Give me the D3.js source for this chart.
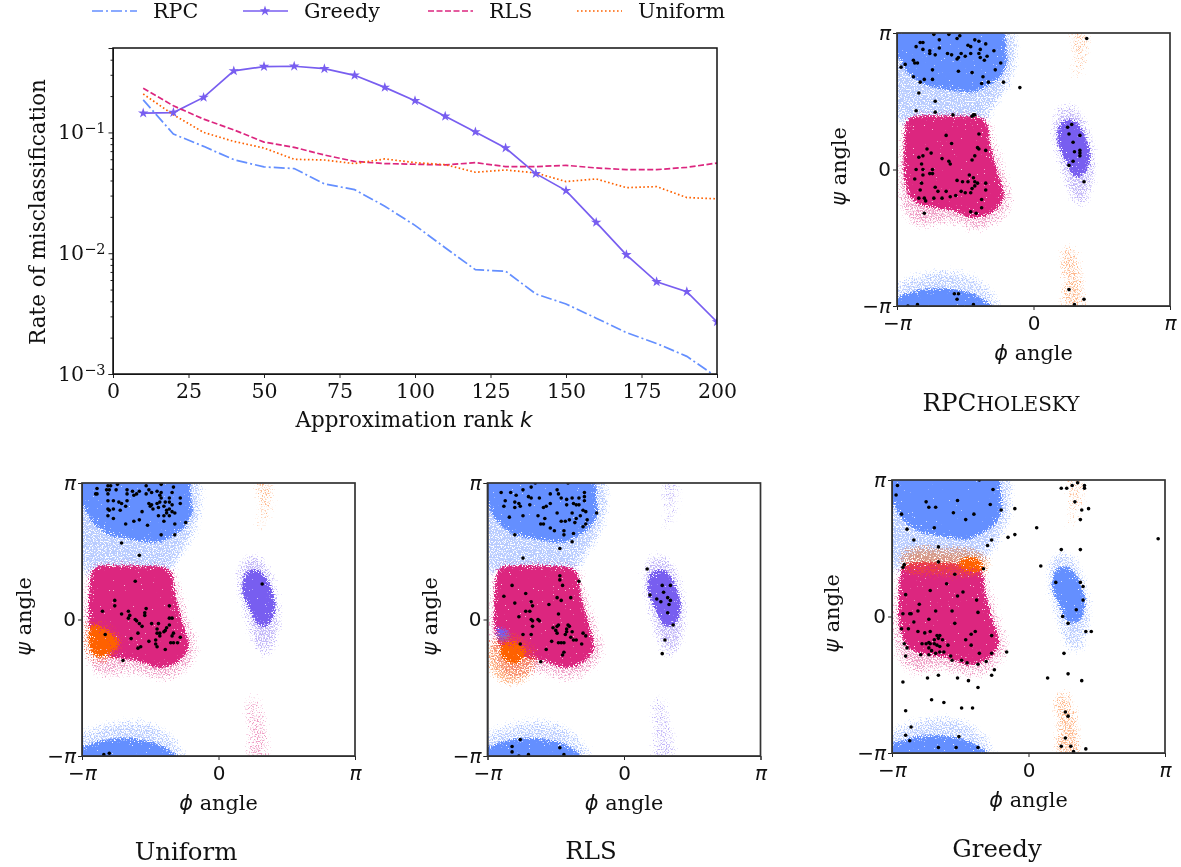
<!DOCTYPE html>
<html>
<head>
<meta charset="utf-8">
<script src="https://cdn.jsdelivr.net/npm/d3@7"></script>
<style>
  html, body { margin: 0; padding: 0; background: #fff; }
  svg { display: block; filter: blur(0.35px); }
  text { fill: #111; font-family: "DejaVu Serif", serif; }
  .axis path, .axis line { stroke: #222; }
</style>
</head>
<body>
<div id="chart"></div>
<script>

// ---- top chart values
var ranks = [10, 20, 30, 40, 50, 60, 70, 80, 90, 100, 110, 120, 130, 140, 150, 160, 170, 180, 190, 200];
var rpcRate = [0.186, 0.097, 0.0767, 0.0595, 0.0518, 0.0502, 0.0375, 0.0336, 0.0245, 0.017, 0.0111, 0.0073, 0.0071, 0.0046, 0.0038, 0.0029, 0.0022, 0.00179, 0.0014, 0.00094];
var greedyRate = [0.1445, 0.146, 0.195, 0.323, 0.351, 0.353, 0.337, 0.297, 0.236, 0.183, 0.136, 0.101, 0.0743, 0.0456, 0.033, 0.018, 0.0097, 0.0058, 0.0048, 0.0027];
var rlsRate = [0.232, 0.166, 0.129, 0.105, 0.0832, 0.0752, 0.065, 0.0576, 0.0552, 0.0545, 0.0538, 0.0562, 0.0521, 0.0521, 0.0534, 0.0508, 0.0492, 0.0492, 0.0514, 0.0558];
var uniformRate = [0.208, 0.14, 0.1, 0.0843, 0.0743, 0.0599, 0.0591, 0.0552, 0.0603, 0.0562, 0.0541, 0.0468, 0.0489, 0.0462, 0.0392, 0.0412, 0.0349, 0.0356, 0.0289, 0.0282];

var xTicks = [0, 25, 50, 75, 100, 125, 150, 175, 200];
var yTicks = [0.1, 0.01, 0.001];
var yTickLabels = ["\u22121", "\u22122", "\u22123"];
var yMinorTicks = [0.4, 0.3, 0.2, 0.09, 0.08, 0.07, 0.06, 0.05, 0.04, 0.03, 0.02, 0.009, 0.008, 0.007, 0.006, 0.005, 0.004, 0.003, 0.002];

var blue = "#648fff", purple = "#785ef0", magenta = "#dc267f", orange = "#fe6100";

// ---- sampled landmarks, [phi, psi] in units of pi
var rpcPoints = [[-.73,.99],[-.62,.99],[-.54,.98],[-.56,.96],[-.69,.95],[-.83,.93],[-.81,.93],[-.86,.90],[-.69,.89],[-.48,.91],[-.46,.90],[-.43,.95],[-.40,.94],[-.35,.92],[-.29,.87],[-.39,.88],[-.81,.88],[-.76,.87],[-.76,.85],[-.72,.84],[-.63,.85],[-.60,.84],[-.53,.85],[-.55,.82],[-.56,.81],[-.50,.83],[-.46,.85],[-.40,.85],[-.39,.82],[-.36,.80],[-.34,.83],[-.88,.80],[-.87,.78],[-.85,.78],[-.97,.75],[-.94,.77],[-.74,.73],[-.55,.72],[-.45,.71],[-.28,.73],[-.24,.78],[-.88,.68],[-.83,.64],[-.80,.66],[-.74,.66],[-.37,.68],[-.33,.64],[-.38,.63],[-.22,.64],[-.10,.60],[-.84,.56],[-.72,.50],[-.86,.43],[-.72,.42],[-.59,.40],[-.44,.40],[-.43,.40],[-.45,.39],
  [-.64,.25],[-.40,.26],[-.60,.19],[-.78,.15],[-.75,.12],[-.41,.16],[-.40,.15],[-.35,.14],[-.43,.10],[-.45,.07],[-.67,.08],[-.62,.06],[-.61,.04],[-.81,.10],[-.84,.09],[-.82,.04],[-.86,0],[-.81,0],[-.74,0],[-.76,-.03],[-.74,-.03],[-.87,-.07],[-.81,-.04],[-.82,-.10],[-.72,-.13],[-.70,-.16],[-.83,-.15],[-.84,-.21],[-.80,-.21],[-.79,-.23],[-.73,-.21],[-.67,-.21],[-.64,-.16],[-.61,-.20],[-.57,-.19],[-.53,-.16],[-.50,-.17],[-.56,-.08],[-.52,-.09],[-.48,-.09],[-.47,-.04],[-.44,-.06],[-.43,-.09],[-.41,-.10],[-.43,-.12],[-.45,-.14],[-.46,-.17],[-.35,-.10],[-.35,-.15],[-.38,-.22],[-.38,-.28],[-.46,-.31],[-.42,-.32],[-.80,-.32],
  [.25,.31],[.28,.33],[.26,.26],[.34,.25],[.29,.20],[.34,.14],[.30,.13],[.34,.12],[.34,.10],[.29,.06],[.26,.03],[.37,-.09],[.39,.96],[.26,-.88],[.37,-.95],[.30,-.99],
  [-.58,-.91],[-.55,-.91],[-.56,-.95],[-.44,-.99],[-.85,-.99],[-.92,-1]];

var uniformPoints = [[-.89,.96],[-.90,.92],[-.89,.92],[-.81,.98],[-.79,.98],[-.74,.99],[-.82,.95],[-.80,.95],[-.75,.95],[-.81,.92],[-.53,.98],[-.42,.99],[-.33,.97],[-.67,.95],[-.63,.94],[-.58,.94],[-.51,.95],[-.45,.94],[-.42,.93],[-.34,.93],[-.67,.92],[-.62,.91],[-.60,.92],[-.53,.92],[-.49,.93],[-.43,.91],[-.42,.89],[-.36,.89],[-.28,.89],[-.81,.87],[-.77,.87],[-.73,.86],[-.71,.85],[-.67,.87],[-.51,.85],[-.49,.84],[-.45,.85],[-.43,.86],[-.39,.86],[-.36,.86],[-.34,.84],[-.28,.85],[-.81,.81],[-.77,.81],[-.80,.80],[-.72,.80],[-.68,.83],[-.56,.79],[-.50,.83],[-.48,.81],[-.44,.82],[-.40,.83],[-.38,.80],[-.36,.81],[-.34,.79],[-.32,.78],[-.81,.76],[-.77,.74],[-.62,.72],[-.58,.73],[-.44,.76],[-.40,.76],[-.38,.78],[-.36,.76],[-.68,.70],[-.52,.69],[-.40,.72],[-.32,.70],[-.24,.71],[-.42,.62],[-.32,.62],[-.71,.56],[-.58,.47],[-.61,.28],
  [-.76,.14],[-.76,.10],[-.85,.06],[-.71,.04],[-.66,.06],[-.65,.03],[-.66,.01],[-.53,.08],[-.36,.10],[-.54,.05],[-.54,.03],[-.61,0],[-.60,-.01],[-.58,-.03],[-.56,-.05],[-.49,-.03],[-.44,-.03],[-.36,.01],[-.34,.01],[-.39,-.08],[-.40,-.09],[-.36,-.04],[-.38,-.06],[-.45,-.07],[-.43,-.10],[-.45,-.10],[-.59,-.10],[-.83,-.11],[-.28,-.13],[-.33,-.10],[-.34,-.12],[-.64,-.14],[-.51,-.16],[-.46,-.15],[-.46,-.18],[-.45,-.20],[-.57,-.20],[-.59,-.21],[-.39,-.22],[-.35,-.17],[-.33,-.17],[-.30,-.17],[-.43,-.12],[-.70,-.30],
  [.32,.26],[-.84,-.99],[-.80,-.98]];

var rlsPoints = [[-.65,1],[-.41,1],[-.68,.97],[-.90,.93],[-.83,.93],[-.79,.91],[-.74,.95],[-.49,.95],[-.48,.92],[-.54,.92],[-.29,.93],[-.70,.90],[-.68,.89],[-.62,.89],[-.46,.89],[-.42,.88],[-.38,.89],[-.33,.89],[-.29,.90],[-.29,.87],[-.87,.87],[-.80,.86],[-.77,.85],[-.88,.83],[-.80,.82],[-.76,.83],[-.69,.84],[-.59,.82],[-.57,.83],[-.54,.85],[-.42,.84],[-.37,.85],[-.35,.84],[-.33,.84],[-.30,.80],[-.28,.79],[-.20,.78],[-.49,.78],[-.38,.78],[-.84,.75],[-.74,.76],[-.63,.76],[-.58,.74],[-.46,.72],[-.43,.72],[-.40,.73],[-.36,.71],[-.35,.74],[-.32,.76],[-.27,.73],[-.28,.70],[-.30,.68],[-.61,.70],[-.59,.70],[-.54,.67],[-.51,.65],[-.44,.65],[-.37,.63],[-.44,.62],[-.80,.62],[-.38,.57],[-.47,.52],[-.74,.45],
  [-.47,.32],[-.47,.29],[-.33,.28],[-.82,.25],[-.45,.25],[-.88,.17],[-.72,.19],[-.49,.16],[-.46,.14],[-.39,.16],[-.80,.12],[-.68,.13],[-.55,.11],[-.67,.10],[-.48,.04],[-.72,.06],[-.69,.06],[-.77,.02],[-.68,0],[-.67,-.01],[-.63,0],[-.62,-.01],[-.41,-.04],[-.40,-.05],[-.48,-.04],[-.49,-.05],[-.52,-.06],[-.50,-.08],[-.42,-.07],[-.67,-.05],[-.74,-.11],[-.68,-.11],[-.49,-.10],[-.42,-.09],[-.43,-.11],[-.38,-.09],[-.39,-.13],[-.37,-.15],[-.35,-.15],[-.30,-.10],[-.28,-.12],[-.31,-.18],[-.53,-.16],[-.48,-.17],[-.46,-.17],[-.44,-.17],[-.76,-.18],[-.57,-.22],[-.44,-.24],[-.45,-.26],[-.61,-.31],
  [.17,.37],[.28,.25],[.34,.25],[.29,.20],[.19,.18],[.24,.15],[.27,.13],[.32,.16],[.34,.14],[.33,.11],[.32,.05],[.36,-.04],[.30,-.15],[.28,-.25],
  [-.76,-.88],[-.82,-.93],[-.82,-.97],[-.47,-.94],[-.77,-1],[-.70,-.99],[-.44,-.99]];

var greedyPoints = [[-.96,.96],[-.97,.89],[-.36,1],[-.26,.93],[-.75,.84],[-.73,.80],[-.68,.80],[-.52,.85],[-.28,.82],[-.55,.76],[-.40,.75],[-.20,.78],[-.10,.79],[-.93,.75],[-.46,.71],[.06,.65],[-.69,.65],[-.89,.64],[-.10,.60],[-.15,.58],[-.84,.56],[-.27,.56],[-.30,.52],[.95,.57],[-.66,.51],[.24,.49],[.38,.49],[-.66,.40],[-.91,.38],[-.92,.36],[-.33,.35],[.09,.37],[-.54,.31],[-.60,.24],[-.72,.19],[-.90,.16],[-.52,.15],[-.48,.18],[-.38,.12],[.40,.12],[.20,.25],[.38,.25],[.40,.22],[-.80,.09],[-.81,.04],[-.87,.02],[-.86,.02],[-.92,.02],[-.68,.04],[-.56,.04],[-.37,.03],[.35,.05],[-.73,-.02],[.25,0],[-.84,-.04],[-.54,-.05],[.29,-.05],[-.93,-.09],[-.88,-.09],[-.81,-.11],[-.76,-.12],[-.72,-.11],[-.39,-.11],[-.42,-.13],[-.65,-.14],[-.67,-.14],[-.27,-.14],[.42,-.11],[.46,-.11],[-.69,-.17],[-.66,-.16],[-.46,-.17],[-.63,-.17],[-.59,-.21],[-.42,-.21],[-.91,-.20],[-.89,-.23],[-.78,-.20],[-.75,-.20],[-.73,-.19],[-.72,-.20],[-.69,-.20],[-.67,-.21],[-.65,-.22],[-.73,-.23],[-.71,-.25],[-.68,-.27],[-.65,-.26],[-.90,-.29],[-.79,-.28],[-.73,-.28],[-.62,-.26],[-.57,-.29],[-.56,-.32],[-.49,-.32],[-.45,-.34],[-.37,-.35],[-.31,-.33],[-.36,-.27],[-.27,-.27],[-.16,-.26],[.26,-.27],[-.25,-.39],[-.27,-.43],[-.66,-.43],[-.74,-.45],[-.52,-.45],[-.44,-.47],[-.37,-.52],[-.92,-.48],[.14,-.45],[.29,-.42],[.39,-.47],[-.71,-.61],[-.62,-.63],[-.49,-.67],[-.41,-.67],[-.90,-.69],[.27,-.70],[.29,-.73],[-.86,-.81],[-.90,-.87],[-.87,-.91],[-.51,-.88],[.27,-.89],[.24,-.95],[-.66,-.96],[-.53,-.96],[-.37,-.96],[.42,-.97],[.31,-.95],[.33,-.99],[.24,.94],[.28,.94],[.32,.96],[.36,.98],[.41,.96],[.41,.94],[.34,.84],[.39,.78],[.44,.79],[.38,.71]];

// ---- outlines of the dense clouds behind the landmarks, same units
var topCore = [[-1.08,1.08],[-.26,1.08],[-.21,.87],[-.2,.78],[-.25,.68],[-.34,.62],[-.44,.57],[-.61,.59],[-.81,.63],[-.93,.73],[-.99,.85],[-1.08,.9]];
var topHalo = [[-1.08,1.08],[-.16,1.08],[-.12,.8],[-.18,.6],[-.3,.42],[-.36,.3],[-.85,.3],[-.97,.3],[-1.08,.45]];
var bottomCore = [[-1.08,-1.08],[-1.08,-.98],[-.96,-.93],[-.83,-.89],[-.64,-.88],[-.47,-.91],[-.35,-.97],[-.27,-1.08]];
var bottomHalo = [[-1.08,-1.08],[-1.08,-.85],[-.85,-.74],[-.6,-.71],[-.4,-.77],[-.27,-.9],[-.2,-1.08]];
var redCore = [[-.9,.38],[-.37,.37],[-.33,.19],[-.27,-.03],[-.22,-.2],[-.3,-.31],[-.44,-.35],[-.6,-.29],[-.81,-.26],[-.9,-.2],[-.94,-.05],[-.94,.17]];
var redHalo = [[-.95,.43],[-.33,.42],[-.26,.2],[-.18,-.05],[-.12,-.25],[-.26,-.42],[-.45,-.48],[-.6,-.4],[-.85,-.46],[-.98,-.32],[-1.02,-.05],[-.99,.2]];
var rightCore = [[.2,.34],[.29,.36],[.36,.27],[.41,.12],[.39,0],[.31,-.06],[.24,.07],[.18,.21]];
var rightHalo = [[.17,.48],[.29,.5],[.41,.34],[.47,.04],[.43,-.18],[.36,-.34],[.26,-.22],[.17,.07],[.12,.31]];
var topBand = [[.23,1.08],[.42,1.08],[.42,.78],[.34,.63],[.19,.56],[.28,.78]];
var bottomBand = [[.18,-1.08],[.4,-1.08],[.37,-.74],[.29,-.47],[.16,-.61],[.2,-.79]];
var edgeStrip = [[.96,1.08],[1.08,1.08],[1.08,.6],[.97,.7]];
var uniformPatch = [[-.94,-.03],[-.87,-.05],[-.71,-.16],[-.82,-.27],[-.92,-.27],[-.95,-.15]];
var uniformPatchHalo = [[-1,0],[-.85,0],[-.66,-.16],[-.8,-.33],[-.95,-.33],[-1,-.15]];
var rlsPatch = [[-.91,-.19],[-.79,-.16],[-.71,-.24],[-.79,-.33],[-.89,-.29]];
var rlsPatchHalo = [[-1,-.15],[-.8,-.08],[-.62,-.25],[-.68,-.42],[-.85,-.5],[-1,-.36]];
var rlsSmallPatch = [[-.93,-.03],[-.83,-.1],[-.8,-.14],[-.93,-.17]];
var greedyBandCore = [[-.52,.42],[-.36,.44],[-.33,.32],[-.5,.34]];
var greedyBand = [[-.92,.5],[-.33,.48],[-.3,.3],[-.92,.32]];

// layer order per panel: outline, colour, density (1 = tight core), soft edge or not
var rpcLayers = [[topBand, orange, .44, 1], [bottomBand, orange, .48, 1], [edgeStrip, blue, .22, 1], [topHalo, blue, .62, 1], [bottomHalo, blue, .5, 1], [rightHalo, purple, .56, 1], [redHalo, magenta, .5, 1], [topCore, blue, 1, 0], [bottomCore, blue, 1, 0], [rightCore, purple, 1, 0], [redCore, magenta, 1, 0]];
var uniformLayers = [[topBand, orange, .44, 1], [bottomBand, magenta, .44, 1], [edgeStrip, blue, .22, 1], [topHalo, blue, .62, 1], [bottomHalo, blue, .5, 1], [rightHalo, purple, .56, 1], [redHalo, magenta, .5, 1], [topCore, blue, 1, 0], [bottomCore, blue, 1, 0], [rightCore, purple, 1, 0], [redCore, magenta, 1, 0], [uniformPatchHalo, orange, .6, 1], [uniformPatch, orange, .8, 0]];
var rlsLayers = [[topBand, purple, .44, 1], [bottomBand, purple, .44, 1], [edgeStrip, blue, .22, 1], [topHalo, blue, .62, 1], [bottomHalo, blue, .5, 1], [rightHalo, purple, .56, 1], [redHalo, magenta, .5, 1], [topCore, blue, 1, 0], [bottomCore, blue, 1, 0], [rightCore, purple, 1, 0], [redCore, magenta, 1, 0], [rlsSmallPatch, purple, .7, 0], [rlsPatchHalo, orange, .7, 1], [rlsPatch, orange, .8, 0]];
var greedyLayers = [[topBand, orange, .44, 1], [bottomBand, orange, .52, 1], [edgeStrip, blue, .22, 1], [topHalo, blue, .62, 1], [bottomHalo, blue, .5, 1], [rightHalo, blue, .56, 1], [redHalo, magenta, .5, 1], [topCore, blue, 1, 0], [bottomCore, blue, 1, 0], [rightCore, blue, 1, 0], [redCore, magenta, 1, 0], [greedyBand, orange, .8, 1], [greedyBandCore, orange, .7, 0]];

var panels = [
  { left: 897, top: 33, points: rpcPoints, layers: rpcLayers, psiX: 846, phiY: 360 },
  { left: 82, top: 483, points: uniformPoints, layers: uniformLayers, psiX: 31, phiY: 810 },
  { left: 487.5, top: 483, points: rlsPoints, layers: rlsLayers, psiX: 437, phiY: 810 },
  { left: 892, top: 480, points: greedyPoints, layers: greedyLayers, psiX: 839, phiY: 807 }
];
var panelSize = 273;

var svg = d3.select("#chart").append("svg")
  .attr("width", 1181)
  .attr("height", 867);

var defs = svg.append("defs");

// grain for the clouds: blur the outline, multiply by noise, threshold it
function addStipple(id, colour, sigma, lift, cut, opacity) {
  var f = defs.append("filter")
    .attr("id", id)
    .attr("filterUnits", "userSpaceOnUse")
    .attr("x", 0).attr("y", 0).attr("width", 1181).attr("height", 867)
    .attr("color-interpolation-filters", "sRGB");
  f.append("feGaussianBlur").attr("in", "SourceGraphic").attr("stdDeviation", sigma).attr("result", "soft");
  f.append("feTurbulence").attr("type", "fractalNoise").attr("baseFrequency", 0.75).attr("numOctaves", 2).attr("seed", 7).attr("result", "noise");
  f.append("feColorMatrix").attr("in", "noise").attr("type", "matrix")
    .attr("values", "0 0 0 0 0 0 0 0 0 0 0 0 0 0 0 1.6 0 0 0 -0.3").attr("result", "grain");
  f.append("feColorMatrix").attr("in", "soft").attr("type", "matrix")
    .attr("values", "0 0 0 0 0 0 0 0 0 0 0 0 0 0 0 0 0 0 1 0").attr("result", "density");
  f.append("feComposite").attr("in", "density").attr("in2", "grain").attr("operator", "arithmetic")
    .attr("k1", 1.5).attr("k2", lift).attr("k3", 0).attr("k4", -cut).attr("result", "sum");
  var boost = f.append("feComponentTransfer").attr("in", "sum").attr("result", "mask");
  boost.append("feFuncA").attr("type", "linear").attr("slope", 6).attr("intercept", 0);
  f.append("feFlood").attr("flood-color", colour).attr("flood-opacity", opacity).attr("result", "paint");
  f.append("feComposite").attr("in", "paint").attr("in2", "mask").attr("operator", "in");
}

[[blue, "blue"], [purple, "purple"], [magenta, "magenta"], [orange, "orange"]].forEach(function (c) {
  addStipple("soft-" + c[1], c[0], 9, 0, 0.27, 0.45);
  addStipple("core-" + c[1], c[0], 4.5, 0.4, 0.35, 1);
});

function colourName(colour) {
  return colour === blue ? "blue" : colour === purple ? "purple" : colour === magenta ? "magenta" : "orange";
}

// ---- top chart
var margin = { left: 113, right: 464, top: 48, bottom: 493 };
var width = 1181 - margin.left - margin.right;
var height = 867 - margin.top - margin.bottom;

var xScale = d3.scaleLinear().domain([0, 200]).range([margin.left, margin.left + width]);
var yScale = d3.scaleLog().domain([0.001, 0.5]).range([margin.top + height, margin.top]);

svg.append("clipPath").attr("id", "main-clip")
  .append("rect")
  .attr("x", margin.left).attr("y", margin.top)
  .attr("width", width).attr("height", height);

var series = [
  { name: "RPC", values: rpcRate, colour: blue, dash: "11,3,2,3" },
  { name: "Greedy", values: greedyRate, colour: purple, dash: null },
  { name: "RLS", values: rlsRate, colour: magenta, dash: "6,2.5" },
  { name: "Uniform", values: uniformRate, colour: orange, dash: "1.6,2.4" }
];

var line = d3.line()
  .x(function (d, i) { return xScale(ranks[i]); })
  .y(function (d) { return yScale(d); });

var star = d3.symbol().type(d3.symbolStar).size(34);

var mainG = svg.append("g").attr("clip-path", "url(#main-clip)");

mainG.selectAll(".rate")
  .data(series)
  .enter().append("path")
  .attr("class", "rate")
  .attr("fill", "none")
  .attr("stroke", function (d) { return d.colour; })
  .attr("stroke-width", 1.7)
  .attr("stroke-dasharray", function (d) { return d.dash; })
  .attr("d", function (d) { return line(d.values); });

mainG.selectAll(".star")
  .data(greedyRate)
  .enter().append("path")
  .attr("class", "star")
  .attr("fill", purple)
  .attr("d", star)
  .attr("transform", function (d, i) { return "translate(" + xScale(ranks[i]) + "," + yScale(d) + ")"; });

var xAxis = svg.append("g")
  .attr("class", "axis")
  .attr("transform", "translate(0," + (margin.top + height) + ")")
  .call(d3.axisBottom(xScale).tickValues(xTicks).tickSize(4).tickPadding(5).tickFormat(d3.format("d")));
xAxis.selectAll("text").style("font-size", "20.5px").style("font-family", "DejaVu Serif");

var yMinor = svg.append("g")
  .attr("class", "axis")
  .attr("transform", "translate(" + margin.left + ",0)")
  .call(d3.axisLeft(yScale).tickValues(yMinorTicks).tickSize(2.5).tickFormat(""));
yMinor.select(".domain").remove();

var yAxis = svg.append("g")
  .attr("class", "axis")
  .attr("transform", "translate(" + margin.left + ",0)")
  .call(d3.axisLeft(yScale).tickValues(yTicks).tickSize(4.5).tickPadding(3).tickFormat(""));

yAxis.selectAll(".tick text").each(function (d, i) {
  var t = d3.select(this).style("font-size", "20.5px").style("font-family", "DejaVu Serif");
  t.append("tspan").text("10");
  t.append("tspan").attr("dy", "-0.42em").style("font-size", "14.5px").text(yTickLabels[i]);
});

svg.append("rect")
  .attr("x", margin.left).attr("y", margin.top)
  .attr("width", width).attr("height", height)
  .attr("fill", "none").attr("stroke", "#111").attr("stroke-width", 1.5);

svg.append("text")
  .attr("x", margin.left + width / 2 - 1)
  .attr("y", 427)
  .attr("text-anchor", "middle")
  .style("font-size", "21.5px")
  .html('Approximation rank <tspan style="font-family:\'DejaVu Sans\';font-style:italic">k</tspan>');

svg.append("text")
  .attr("transform", "translate(45,212) rotate(-90)")
  .attr("text-anchor", "middle")
  .style("font-size", "21.5px")
  .text("Rate of misclassification");

// ---- legend
var legendX = [92, 243, 428, 577];
var legendG = svg.selectAll(".legend")
  .data(series)
  .enter().append("g")
  .attr("class", "legend")
  .attr("transform", function (d, i) { return "translate(" + legendX[i] + ",11)"; });

legendG.append("line")
  .attr("x1", 0).attr("x2", 45)
  .attr("stroke", function (d) { return d.colour; })
  .attr("stroke-width", 1.7)
  .attr("stroke-dasharray", function (d) { return d.dash; });

legendG.filter(function (d) { return d.name === "Greedy"; })
  .append("path")
  .attr("fill", purple)
  .attr("d", star)
  .attr("transform", "translate(22,0)");

legendG.append("text")
  .attr("x", 61)
  .attr("y", 7)
  .style("font-size", "20.7px")
  .text(function (d) { return d.name; });

// ---- phi / psi panels
var piScale = d3.scaleLinear().domain([-1, 1]);

function writePi(sel) {
  sel.each(function (d) {
    var t = d3.select(this).text("")
      .style("font-size", "20px")
      .style("font-family", "DejaVu Sans");
    if (d === 0) { t.text("0"); return; }
    if (d < 0) { t.append("tspan").text("\u2212"); }
    t.append("tspan").style("font-style", "italic").text("\u03c0");
  });
}

function drawPanel(p, i) {
  var x = piScale.copy().range([p.left, p.left + panelSize]);
  var y = piScale.copy().range([p.top + panelSize, p.top]);
  var clipId = "panel-clip-" + i;

  svg.append("clipPath").attr("id", clipId)
    .append("rect")
    .attr("x", p.left).attr("y", p.top)
    .attr("width", panelSize).attr("height", panelSize);

  var g = svg.append("g").attr("clip-path", "url(#" + clipId + ")");
  var outline = d3.line()
    .x(function (d) { return x(d[0]); })
    .y(function (d) { return y(d[1]); })
    .curve(d3.curveCardinalClosed.tension(0.6));

  g.selectAll(".cloud")
    .data(p.layers)
    .enter().append("path")
    .attr("class", "cloud")
    .attr("d", function (d) { return outline(d[0]); })
    .attr("fill", "#000")
    .attr("fill-opacity", function (d) { return d[2]; })
    .attr("filter", function (d) { return "url(#" + (d[3] ? "soft-" : "core-") + colourName(d[1]) + ")"; });

  g.selectAll(".landmark")
    .data(p.points)
    .enter().append("circle")
    .attr("class", "landmark")
    .attr("cx", function (d) { return x(d[0]); })
    .attr("cy", function (d) { return y(d[1]); })
    .attr("r", 1.8)
    .attr("fill", "#000");

  var xa = svg.append("g")
    .attr("class", "axis")
    .attr("transform", "translate(0," + (p.top + panelSize) + ")")
    .call(d3.axisBottom(x).tickValues([-1, 0, 1]).tickSize(4).tickPadding(6));
  writePi(xa.selectAll(".tick text"));

  var ya = svg.append("g")
    .attr("class", "axis")
    .attr("transform", "translate(" + p.left + ",0)")
    .call(d3.axisLeft(y).tickValues([-1, 0, 1]).tickSize(4).tickPadding(2));
  writePi(ya.selectAll(".tick text"));

  svg.append("rect")
    .attr("x", p.left).attr("y", p.top)
    .attr("width", panelSize).attr("height", panelSize)
    .attr("fill", "none").attr("stroke", "#333").attr("stroke-width", 1.7);

  svg.append("text")
    .attr("x", p.left + panelSize / 2)
    .attr("y", p.phiY)
    .attr("text-anchor", "middle")
    .style("font-size", "20.8px")
    .html('<tspan style="font-family:\'DejaVu Sans\';font-style:italic">\u03d5</tspan> angle');

  svg.append("text")
    .attr("transform", "translate(" + p.psiX + "," + (p.top + panelSize / 2 - 3) + ") rotate(-90)")
    .attr("text-anchor", "middle")
    .style("font-size", "20.8px")
    .html('<tspan style="font-family:\'DejaVu Sans\';font-style:italic">\u03c8</tspan> angle');
}

panels.forEach(drawPanel);

// ---- panel captions
var captions = [
  { text: "Uniform", x: 186, y: 860 },
  { text: "RLS", x: 591, y: 859 },
  { text: "Greedy", x: 997, y: 857 }
];

svg.selectAll(".caption")
  .data(captions)
  .enter().append("text")
  .attr("class", "caption")
  .attr("x", function (d) { return d.x; })
  .attr("y", function (d) { return d.y; })
  .attr("text-anchor", "middle")
  .style("font-size", "24.4px")
  .text(function (d) { return d.text; });

svg.append("text")
  .attr("x", 1001)
  .attr("y", 411)
  .attr("text-anchor", "middle")
  .style("font-size", "24.6px")
  .html('RPC<tspan style="font-size:20px">HOLESKY</tspan>');

</script>
</body>
</html>
